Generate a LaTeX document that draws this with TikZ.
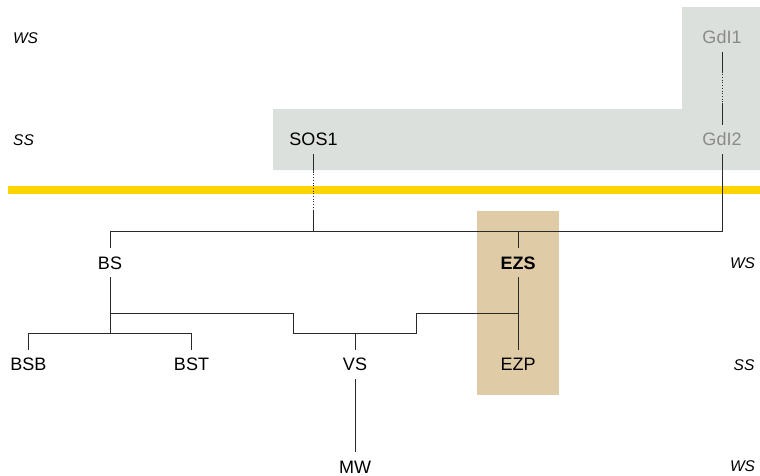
\documentclass[tikz,border=0pt]{standalone}
\usepackage{fontspec}
\setmainfont{Liberation Sans}
\usetikzlibrary{calc}
\definecolor{zonegray}{HTML}{DCE0DC}
\definecolor{zonetan}{HTML}{DFCBA5}
\definecolor{divider}{HTML}{FFD400}
\definecolor{fadedtext}{HTML}{8A8A8A}
\definecolor{wire}{HTML}{2A2A2A}
\tikzset{
  term/.style={inner xsep=2pt, inner ysep=8pt, text height=13pt, text depth=0pt,
    font=\fontsize{18}{18}\selectfont},
  faded/.style={term, text=fadedtext},
  level/.style={inner sep=0pt, font=\fontsize{15.5}{15.5}\selectfont\itshape},
  link/.style={draw=wire, line width=0.9pt},
  weaklink/.style={draw=wire, line width=0.7pt, dotted},
}
\begin{document}
\begin{tikzpicture}[x=1pt, y=-1pt]
  \useasboundingbox (0,0) rectangle (760,475);

  % background zones
  \fill[zonegray] (273,109) -- (682,109) -- (682,7) -- (760,7) -- (760,170) -- (273,170) -- cycle;
  \fill[zonetan] (476.7,211) rectangle (559,394.7);
  \fill[divider] (8,186) rectangle (760,194.3);

  % level labels
  \node[level] (lvWSa) at (25.5,38.3) {WS};
  \node[level] (lvSSa) at (23.5,140) {SS};
  \node[level] (lvWSb) at (742.5,263) {WS};
  \node[level] (lvSSb) at (744,365) {SS};
  \node[level] (lvWSc) at (742.5,466.5) {WS};

  % terms
  \node[faded] (G1) at (722,37.3) {GdI1};
  \node[faded] (G2) at (722,139.3) {GdI2};
  \node[term] (SOS) at (313.5,139.3) {SOS1};
  \node[term] (BS) at (110,262.7) {BS};
  \node[term, font=\fontsize{18}{18}\selectfont\bfseries] (EZS) at (518,262.7) {EZS};
  \node[term] (BSB) at (28.3,364.3) {BSB};
  \node[term] (BST) at (191.5,364.3) {BST};
  \node[term] (VS) at (355,364.3) {VS};
  \node[term] (EZP) at (518,364.3) {EZP};
  \node[term] (MW) at (355,466.5) {MW};

  % junction levels and steps
  \coordinate (busTop) at (0,231);
  \coordinate (busMid) at (0,313.3);
  \coordinate (busLow) at (0,333.3);
  \coordinate (stepL) at (293.3,333.3);
  \coordinate (stepR) at (416,313.3);

  % GdI1 -- GdI2 (partly dotted)
  \coordinate (g1a) at ($(G1.south)!0.27!(G2.north)$);
  \coordinate (g1b) at ($(G1.south)!0.70!(G2.north)$);
  \draw[link] (G1.south) -- (g1a);
  \draw[weaklink] (g1a) -- (g1b);
  \draw[link] (g1b) -- (G2.north);

  % SOS1 down to the top bus (partly dotted)
  \coordinate (s1) at (SOS.south |- busTop);
  \coordinate (s1a) at ($(SOS.south)!0.23!(s1)$);
  \coordinate (s1b) at ($(SOS.south)!0.73!(s1)$);
  \draw[link] (SOS.south) -- (s1a);
  \draw[weaklink] (s1a) -- (s1b);
  \draw[link] (s1b) -- (s1);

  % top bus: BS ... GdI2, EZS
  \draw[link] (BS.north) |- (G2.south |- busTop) -- (G2.south);
  \draw[link] (EZS.north) -- (EZS.north |- busTop);

  % EZS -- EZP
  \draw[link] (EZS.south) -- (EZP.north);

  % BS down to BSB / BST
  \draw[link] (BS.south) -- (BS.south |- busLow);
  \draw[link] (BSB.north) |- (BST.north |- busLow) -- (BST.north);

  % stepped line BS ... VS ... EZS
  \draw[link] (BS.south |- busMid) -| (stepL) -| (stepR) -- (EZS.south |- busMid);
  \draw[link] (VS.north) -- (VS.north |- busLow);

  % VS -- MW
  \draw[link] (VS.south) -- (MW.north);
\end{tikzpicture}
\end{document}
